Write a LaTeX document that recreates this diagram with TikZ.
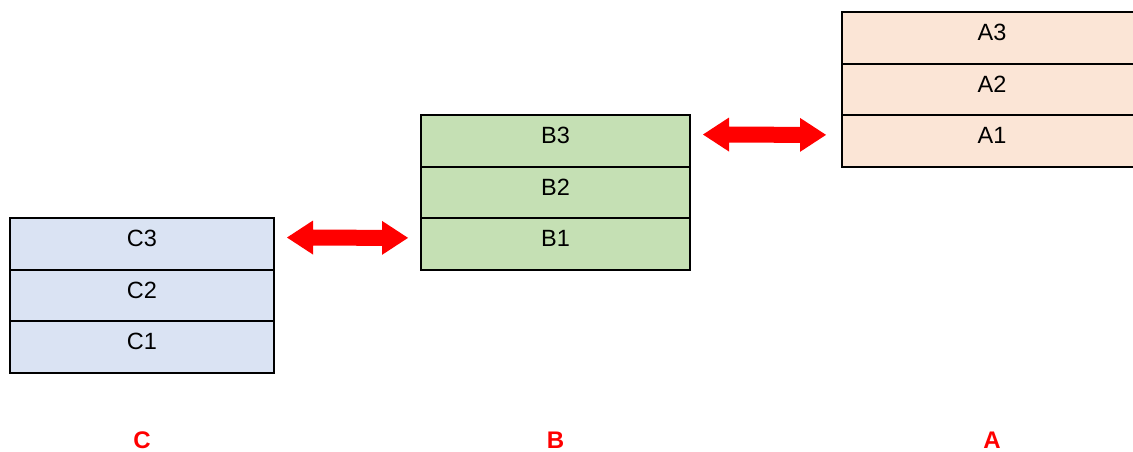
\documentclass[tikz,border=0pt]{standalone}
\usepackage{fontspec}
\setmainfont{Liberation Sans}
\usetikzlibrary{calc}
\definecolor{fillC}{HTML}{DAE3F3}
\definecolor{fillB}{HTML}{C5E0B4}
\definecolor{fillA}{HTML}{FBE5D6}
\definecolor{linkred}{HTML}{FF0000}
% block double arrow between two points: head length 26, head half-width 17, shaft half-width 8
\newcommand\twowaylink[2]{%
  \fill[linkred] (#1) -- ($(#1)+(26,-17)$) -- ($(#1)+(26,-8)$)
    -- ($(#2)+(-26,-8)$) -- ($(#2)+(-26,-17)$) -- (#2)
    -- ($(#2)+(-26,17)$) -- ($(#2)+(-26,8)$)
    -- ($(#1)+(26,8)$) -- ($(#1)+(26,17)$) -- cycle;}
\begin{document}
\begin{tikzpicture}[x=1pt,y=-1pt,
  cell/.style={draw=black, line width=2pt, inner sep=0pt, outer sep=0pt,
    minimum height=51.67pt, text height=19pt, text depth=14pt,
    font=\fontsize{23.5}{28}\selectfont, anchor=north west},
  cellC/.style={cell, fill=fillC, minimum width=264pt},
  cellB/.style={cell, fill=fillB, minimum width=269pt},
  cellA/.style={cell, fill=fillA, minimum width=300pt},
  stacklabel/.style={text=linkred, font=\fontsize{24}{28}\selectfont\bfseries,
    inner sep=0pt, anchor=base}]
\useasboundingbox (0,0) rectangle (1133,452);
\clip (0,0) rectangle (1133,452);

% stack C
\node[cellC] (C3) at (10,218) {C3};
\node[cellC] (C2) at (C3.south west) {C2};
\node[cellC] (C1) at (C2.south west) {C1};

% stack B
\node[cellB] (B3) at (421,115) {B3};
\node[cellB] (B2) at (B3.south west) {B2};
\node[cellB] (B1) at (B2.south west) {B1};

% stack A (runs past the right edge)
\node[cellA] (A3) at (842,12) {A3};
\node[cellA] (A2) at (A3.south west) {A2};
\node[cellA] (A1) at (A2.south west) {A1};

% two-way links between neighbouring stacks
\coordinate (cbL) at ([xshift=13pt,yshift=6.3pt]C3.east);
\coordinate (cbR) at ([xshift=-13pt,yshift=6.3pt]B1.west);
\twowaylink{cbL}{cbR}
\coordinate (baL) at ([xshift=13pt,yshift=6.3pt]B3.east);
\coordinate (baR) at ([xshift=-16pt,yshift=6.3pt]A1.west);
\twowaylink{baL}{baR}

% stack names
\node[stacklabel] (labC) at (C1.south |- 0,448.5) {C};
\node[stacklabel] (labB) at (B1.south |- 0,448.5) {B};
\node[stacklabel] (labA) at (A1.south |- 0,448.5) {A};
\end{tikzpicture}
\end{document}
